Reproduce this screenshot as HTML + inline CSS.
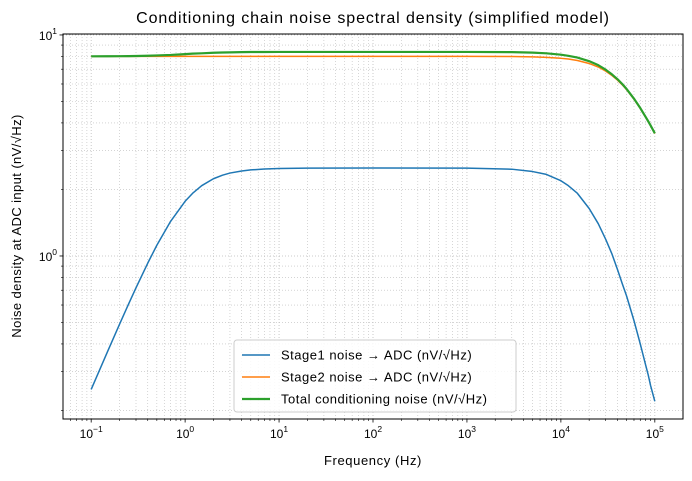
<!DOCTYPE html>
<html><head><meta charset="utf-8"><style>
body{margin:0;background:#fff;}
svg text{font-family:"Liberation Sans",sans-serif;fill:#000;}
</style></head><body>
<svg id="chart" width="692" height="476" viewBox="0 0 692 476" xmlns="http://www.w3.org/2000/svg">
<rect width="692" height="476" fill="#fff"/>
<g id="grid"></g>
<g id="series"></g>
<rect x="63" y="34" width="620" height="385" fill="none" stroke="#000" stroke-width="1"/>
<g id="ticks"></g>
<text x="373" y="23" font-size="16" letter-spacing="0.9" text-anchor="middle">Conditioning chain noise spectral density (simplified model)</text>
<text x="373" y="465" font-size="13" letter-spacing="0.6" text-anchor="middle">Frequency (Hz)</text>
<text transform="translate(21,226) rotate(-90)" font-size="13" letter-spacing="0.4" text-anchor="middle">Noise density at ADC input (nV/√Hz)</text>
<g>
<rect x="234" y="340" width="282" height="72" rx="3" fill="#fff" fill-opacity="0.85" stroke="#ccc"/>
<g><line x1="242" y1="355" x2="270" y2="355" stroke="#1f77b4" stroke-width="1.5"/><text x="281" y="359.5" font-size="13" letter-spacing="0.5">Stage1 noise → ADC (nV/√Hz)</text></g>
<g><line x1="242" y1="377" x2="270" y2="377" stroke="#ff7f0e" stroke-width="1.5"/><text x="281" y="381.5" font-size="13" letter-spacing="0.5">Stage2 noise → ADC (nV/√Hz)</text></g>
<g><line x1="242" y1="399" x2="270" y2="399" stroke="#2ca02c" stroke-width="2.2"/><text x="281" y="403.5" font-size="13" letter-spacing="0.5">Total conditioning noise (nV/√Hz)</text></g>
</g>
</svg>
<script>
const freqs=[0.1,0.15,0.2,0.25,0.3,0.4,0.5,0.7,1,1.2,1.5,2,2.5,3,4,5,7,10,20,100,1000,3000,5000,7000,10000,12000,15000,20000,25000,30000,35000,40000,45000,50000,60000,70000,80000,85000,90000,100000];
const stage1=[0.249,0.371,0.49,0.606,0.718,0.928,1.118,1.434,1.768,1.92,2.08,2.236,2.32,2.372,2.425,2.451,2.475,2.488,2.497,2.5,2.497,2.47,2.41,2.34,2.19,2.08,1.92,1.64,1.40,1.19,1.02,0.87,0.75,0.66,0.51,0.40,0.32,0.29,0.26,0.22];
const stage2=[8.0,8.0,8.0,8.0,8.0,8.0,8.0,8.0,8.0,8.0,8.0,8.0,8.0,8.0,8.0,8.0,8.0,8.0,8.0,8.0,8.0,7.99,7.96,7.92,7.84,7.78,7.66,7.43,7.16,6.86,6.55,6.25,5.95,5.66,5.12,4.65,4.24,4.06,3.89,3.58];
const total=[8.004,8.009,8.015,8.023,8.03,8.054,8.08,8.12,8.19,8.23,8.26,8.31,8.33,8.34,8.36,8.37,8.375,8.38,8.38,8.38,8.38,8.36,8.32,8.26,8.14,8.05,7.90,7.61,7.30,6.96,6.63,6.31,6.00,5.70,5.15,4.67,4.25,4.07,3.90,3.59];
const xTickExps=[-1,0,1,2,3,4,5];
const yTickExps=[0,1];
const NS="http://www.w3.org/2000/svg";
const L=63,R=683,T=34,B=419,XMIN=-1.3,XMAX=5.3,YMIN=Math.log10(0.183),YMAX=Math.log10(10.1);
const sx=f=>L+(Math.log10(f)-XMIN)/(XMAX-XMIN)*(R-L);
const sy=v=>B-(Math.log10(v)-YMIN)/(YMAX-YMIN)*(B-T);
function mk(tag,attrs,parent){const e=document.createElementNS(NS,tag);for(const k in attrs)e.setAttribute(k,attrs[k]);parent.appendChild(e);return e;}
const grid=document.getElementById('grid'),ticks=document.getElementById('ticks'),series=document.getElementById('series');
for(let e=-2;e<=5;e++){for(let m=1;m<10;m++){const f=m*Math.pow(10,e);const x=sx(f);if(x<L||x>R)continue;
const g=mk('line',{x1:x,x2:x,y1:T,y2:B,stroke:'#bbb','stroke-width':m==1?0.8:0.6,'stroke-dasharray':'1,2'},grid);

const t=mk('line',{x1:x,x2:x,y1:B,y2:B+(m==1?3.5:2),stroke:'#000','stroke-width':m==1?0.8:0.6},ticks);
}}
xTickExps.forEach(e=>{const x=sx(Math.pow(10,e));const t=mk('text',{x:x,y:B+19,'font-size':12,'text-anchor':'middle'},ticks);

t.innerHTML='10<tspan dy="-6" font-size="8.5">'+(e<0?'−'+(-e):e)+'</tspan>';});
for(let e=-1;e<=1;e++){for(let m=1;m<10;m++){const v=m*Math.pow(10,e);const y=sy(v);if(y<T-0.5||y>B)continue;
const g=mk('line',{x1:L,x2:R,y1:y,y2:y,stroke:'#bbb','stroke-width':m==1?0.8:0.6,'stroke-dasharray':'1,2'},grid);

const t=mk('line',{x1:L,x2:L-(m==1?3.5:2),y1:y,y2:y,stroke:'#000','stroke-width':m==1?0.8:0.6},ticks);
}}
yTickExps.forEach(e=>{const y=sy(Math.pow(10,e));const t=mk('text',{x:L-6,y:y+5,'font-size':12,'text-anchor':'end'},ticks);

t.innerHTML='10<tspan dy="-6" font-size="8.5">'+e+'</tspan>';});
function line(vals,color,w,name){const p=mk('polyline',{points:freqs.map((f,i)=>sx(f).toFixed(2)+','+sy(vals[i]).toFixed(2)).join(' '),fill:'none',stroke:color,'stroke-width':w,'stroke-linejoin':'round'},series);

}
line(stage1,'#1f77b4',1.5,'stage1-line');
line(stage2,'#ff7f0e',1.5,'stage2-line');
line(total,'#2ca02c',2.2,'total-line');
</script>
</body></html>
